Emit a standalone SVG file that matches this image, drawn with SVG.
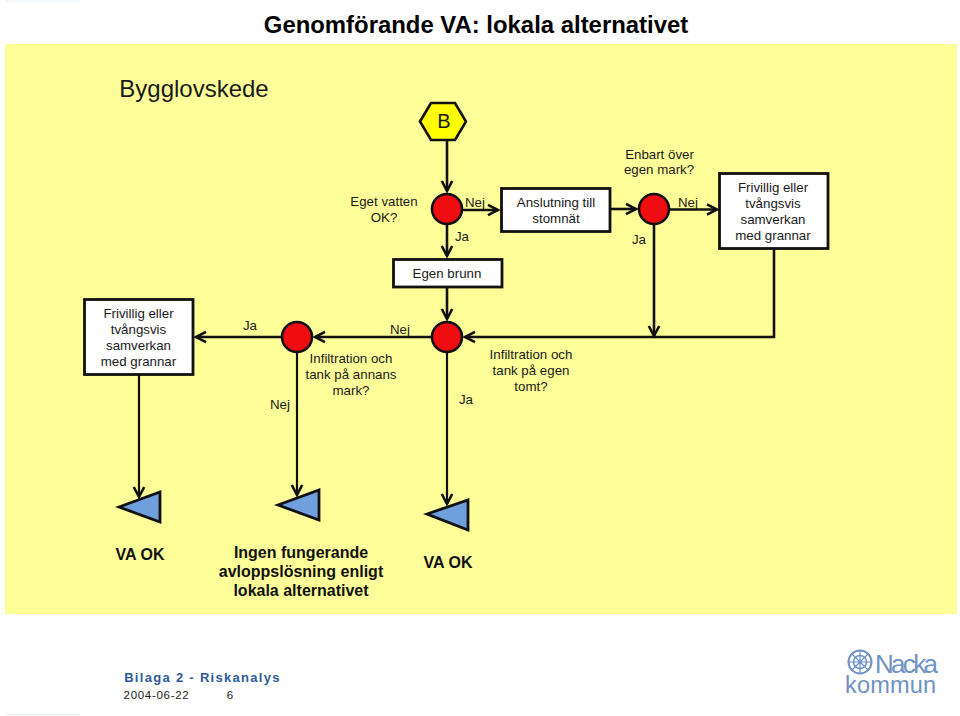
<svg xmlns="http://www.w3.org/2000/svg" width="960" height="716" viewBox="0 0 960 716">
<style>
text{font-family:"Liberation Sans",Arial,sans-serif;fill:#1a1a1a;text-anchor:middle}
.l{font-size:13.300px}
.b{font-size:16px;font-weight:bold;fill:#111}
.box{fill:#fff;stroke:#111;stroke-width:2.800}
.dec{fill:#f00d12;stroke:#111;stroke-width:2.600}
.tri{fill:#6f9fdc;stroke:#111;stroke-width:2.800}
.con{fill:none;stroke:#111;stroke-width:2.600}
.thin{stroke-width:2.200}
</style>
<defs>
<marker id="a" markerUnits="userSpaceOnUse" markerWidth="14" markerHeight="16" refX="11" refY="8" orient="auto"><path d="M1 2.800L11 8L1 13.200" fill="none" stroke="#111" stroke-width="2.600"/></marker>
</defs>
<rect width="960" height="716" fill="#fff"/>
<rect x="5" y="44" width="952" height="570" fill="#ffff99"/>
<path d="M5 1H80M5 714.500H80" stroke="#e4eef2" stroke-width="1"/>
<text x="476" y="33" font-size="23.900" font-weight="bold" style="fill:#000">Genomförande VA: lokala alternativet</text>
<text x="194" y="97" font-size="24">Bygglovskede</text>

<g id="connectors">
<path class="con" marker-end="url(#a)" d="M447 140V191"/>
<path class="con" marker-end="url(#a)" d="M447 224V256"/>
<path class="con" marker-end="url(#a)" d="M462 210H498"/>
<path class="con" marker-end="url(#a)" d="M610 209H636"/>
<path class="con" marker-end="url(#a)" d="M669 209.500H717"/>
<path class="con" marker-end="url(#a)" d="M654 224V336"/>
<path class="con" marker-end="url(#a)" d="M774 248V337H465"/>
<path class="con" marker-end="url(#a)" d="M447 287V319"/>
<path class="con" marker-end="url(#a)" d="M432 337H315"/>
<path class="con" marker-end="url(#a)" d="M282 337H196"/>
<path class="con thin" marker-end="url(#a)" d="M139 374V497"/>
<path class="con thin" marker-end="url(#a)" d="M297 352V495"/>
<path class="con thin" marker-end="url(#a)" d="M447 352V504"/>
</g>

<g id="start-b">
<polygon points="420,121.500 431,103 455,103 466,121.500 455,140 431,140" fill="#ffff00" stroke="#111" stroke-width="2.600"/>
<text x="444" y="128" font-size="20">B</text>
</g>
<g id="dec-vatten">
<circle class="dec" cx="447" cy="209" r="15"/>
<text class="l" x="384" y="206">Eget vatten</text><text class="l" x="384" y="222">OK?</text>
<text class="l" x="475" y="207">Nej</text><text class="l" x="462" y="241">Ja</text>
</g>
<g id="box-stomnat">
<rect class="box" x="501.500" y="188.500" width="108.500" height="43"/>
<text class="l" x="556" y="207">Anslutning till</text><text class="l" x="556" y="223">stomnät</text>
</g>
<g id="dec-mark">
<circle class="dec" cx="654" cy="209" r="15"/>
<text class="l" x="659.500" y="159">Enbart över</text><text class="l" x="659" y="174">egen mark?</text>
<text class="l" x="688" y="207">Nej</text><text class="l" x="639" y="244">Ja</text>
</g>
<g id="box-samverkan-1">
<rect class="box" x="719.500" y="173.500" width="108.500" height="75"/>
<text class="l" x="773" y="192">Frivillig eller</text><text class="l" x="773" y="208">tvångsvis</text><text class="l" x="773" y="224">samverkan</text><text class="l" x="773" y="240">med grannar</text>
</g>
<g id="box-brunn">
<rect class="box" x="393.500" y="259.500" width="108.500" height="27.500"/>
<text class="l" x="447" y="278">Egen brunn</text>
</g>
<g id="box-samverkan-2">
<rect class="box" x="84.500" y="299.500" width="108.500" height="75"/>
<text class="l" x="138.500" y="318">Frivillig eller</text><text class="l" x="138.500" y="334">tvångsvis</text><text class="l" x="138.500" y="350">samverkan</text><text class="l" x="138.500" y="366">med grannar</text>
</g>
<g id="dec-annan">
<circle class="dec" cx="297" cy="337" r="15"/>
<text class="l" x="351" y="363">Infiltration och</text><text class="l" x="351" y="379">tank på annans</text><text class="l" x="351" y="395">mark?</text>
<text class="l" x="250" y="330">Ja</text><text class="l" x="280" y="409">Nej</text><text class="l" x="400" y="334">Nej</text>
</g>
<g id="dec-egen">
<circle class="dec" cx="447" cy="337" r="15"/>
<text class="l" x="531" y="359">Infiltration och</text><text class="l" x="531" y="375">tank på egen</text><text class="l" x="531" y="391">tomt?</text>
<text class="l" x="466" y="404">Ja</text>
</g>
<g id="end-1">
<polygon class="tri" points="119,507 160,492 160,522"/>
<text class="b" x="140" y="560">VA OK</text>
</g>
<g id="end-2">
<polygon class="tri" points="278,505 319,490 319,520"/>
<text class="b" x="301" y="558">Ingen fungerande</text><text class="b" x="301" y="577">avloppslösning enligt</text><text class="b" x="301" y="596">lokala alternativet</text>
</g>
<g id="end-3">
<polygon class="tri" points="427,514 468,500 468,530"/>
<text class="b" x="448" y="568">VA OK</text>
</g>
<text x="202.500" y="682" font-size="13" font-weight="bold" letter-spacing="1.300" style="fill:#2d5a9a">Bilaga 2 - Riskanalys</text>
<text x="156.500" y="699" font-size="11.500" letter-spacing="0.700">2004-06-22</text>
<text x="230" y="699" font-size="11.500">6</text>
<g id="logo">
<circle cx="860" cy="662" r="11.500" fill="#fff" stroke="#6f92c4" stroke-width="2"/>
<circle cx="860" cy="662" r="6.500" fill="none" stroke="#6f92c4" stroke-width="1.500"/>
<path d="M848.500 662H871.500M860 650.500V673.500M852 654L868 670M868 654L852 670" stroke="#6f92c4" stroke-width="1.200"/>
<text style="fill:#6f92c4;text-anchor:start"><tspan x="875" y="672.500" font-size="26" letter-spacing="-2.700">Nacka</tspan><tspan x="845" y="692.500" font-size="23.500" letter-spacing="0.200">kommun</tspan></text>
</g>
</svg>
